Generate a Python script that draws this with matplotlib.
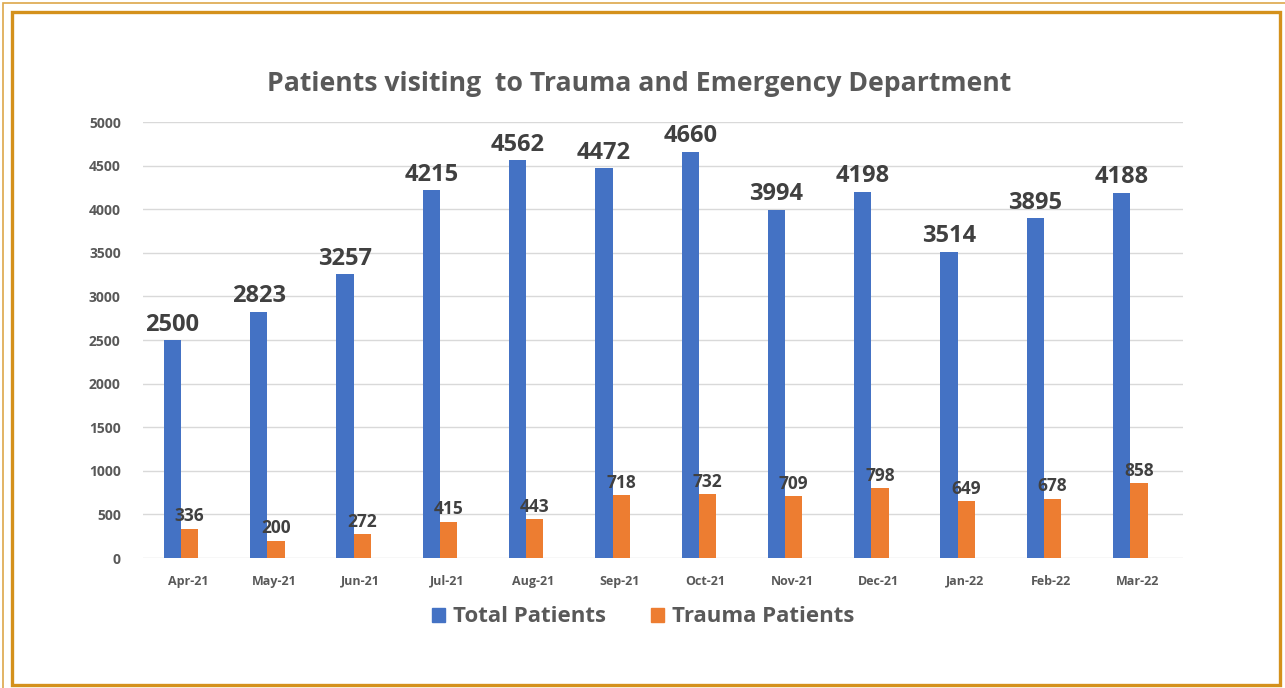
import matplotlib
matplotlib.use("Agg")
import matplotlib.pyplot as plt
from matplotlib.patches import Rectangle, Patch
import numpy as np

months = ["Apr-21", "May-21", "Jun-21", "Jul-21", "Aug-21", "Sep-21",
          "Oct-21", "Nov-21", "Dec-21", "Jan-22", "Feb-22", "Mar-22"]
total_patients = [2500, 2823, 3257, 4215, 4562, 4472, 4660, 3994, 4198, 3514, 3895, 4188]
trauma_patients = [336, 200, 272, 415, 443, 718, 732, 709, 798, 649, 678, 858]
yticks = [0, 500, 1000, 1500, 2000, 2500, 3000, 3500, 4000, 4500, 5000]

BLUE = "#4472C4"
ORANGE = "#ED7D31"
TEXT = "#595959"
GOLD = "#D4911C"

plt.rcParams["font.family"] = ["Open Sans", "DejaVu Sans"]

W, H = 1285, 688
fig = plt.figure(figsize=(W / 100, H / 100), dpi=100)

# gold frame (double line)
fig.patches.append(Rectangle((3 / W, -0.01), 1.1, 1 - 3 / H + 0.01, transform=fig.transFigure,
                             fill=False, edgecolor=GOLD, linewidth=1.2, alpha=0.8))
fig.patches.append(Rectangle((11.5 / W, 3.5 / H), (1280 - 11.5) / W, (676 - 3.5) / H,
                             transform=fig.transFigure, fill=False,
                             edgecolor=GOLD, linewidth=2.4))

ax = fig.add_axes([143 / W, 1 - 558 / H, (1183 - 143) / W, (558 - 122) / H])
x = np.arange(len(months))
w = 0.2
ax.bar(x - w / 2, total_patients, w, color=BLUE, zorder=3, label="Total Patients")
ax.bar(x + w / 2, trauma_patients, w, color=ORANGE, zorder=3, label="Trauma Patients")

for xi, v in zip(x, total_patients):
    ax.text(xi - w / 2, v + 40, str(v), ha="center", va="bottom",
            fontsize=17, fontweight="bold", color="#404040")
for xi, v in zip(x, trauma_patients):
    ax.text(xi + w / 2, v + 40, str(v), ha="center", va="bottom",
            fontsize=12.5, fontweight="bold", color="#404040")

ax.set_xlim(-0.44, 11.61)
ax.set_ylim(0, 5000)
ax.set_yticks(yticks)
ax.set_xticks(x + 0.08)
ax.set_xticklabels(months)
ax.tick_params(axis="both", length=0, colors=TEXT)
ax.tick_params(axis="y", labelsize=10, pad=16)
ax.tick_params(axis="x", labelsize=9, pad=12)
for lab in ax.get_xticklabels() + ax.get_yticklabels():
    lab.set_fontweight("bold")
ax.grid(axis="y", color="#D9D9D9", linewidth=1, zorder=0)
for s in ax.spines.values():
    s.set_visible(False)

fig.text(0.497, 1 - 84 / H, "Patients visiting  to Trauma and Emergency Department",
         ha="center", va="center", fontsize=19.2, fontweight="bold", color=TEXT)

handles = [Patch(color=BLUE, label="Total Patients"),
           Patch(color=ORANGE, label="Trauma Patients")]
leg = fig.legend(handles=handles, loc="center", bbox_to_anchor=(643 / W, 1 - 617 / H),
                 ncol=2, frameon=False, fontsize=16, handlelength=0.6, handleheight=0.6,
                 handletextpad=0.35, columnspacing=2.0)
for t in leg.get_texts():
    t.set_color(TEXT)
    t.set_fontweight("bold")

fig.savefig("out.png", dpi=100)
